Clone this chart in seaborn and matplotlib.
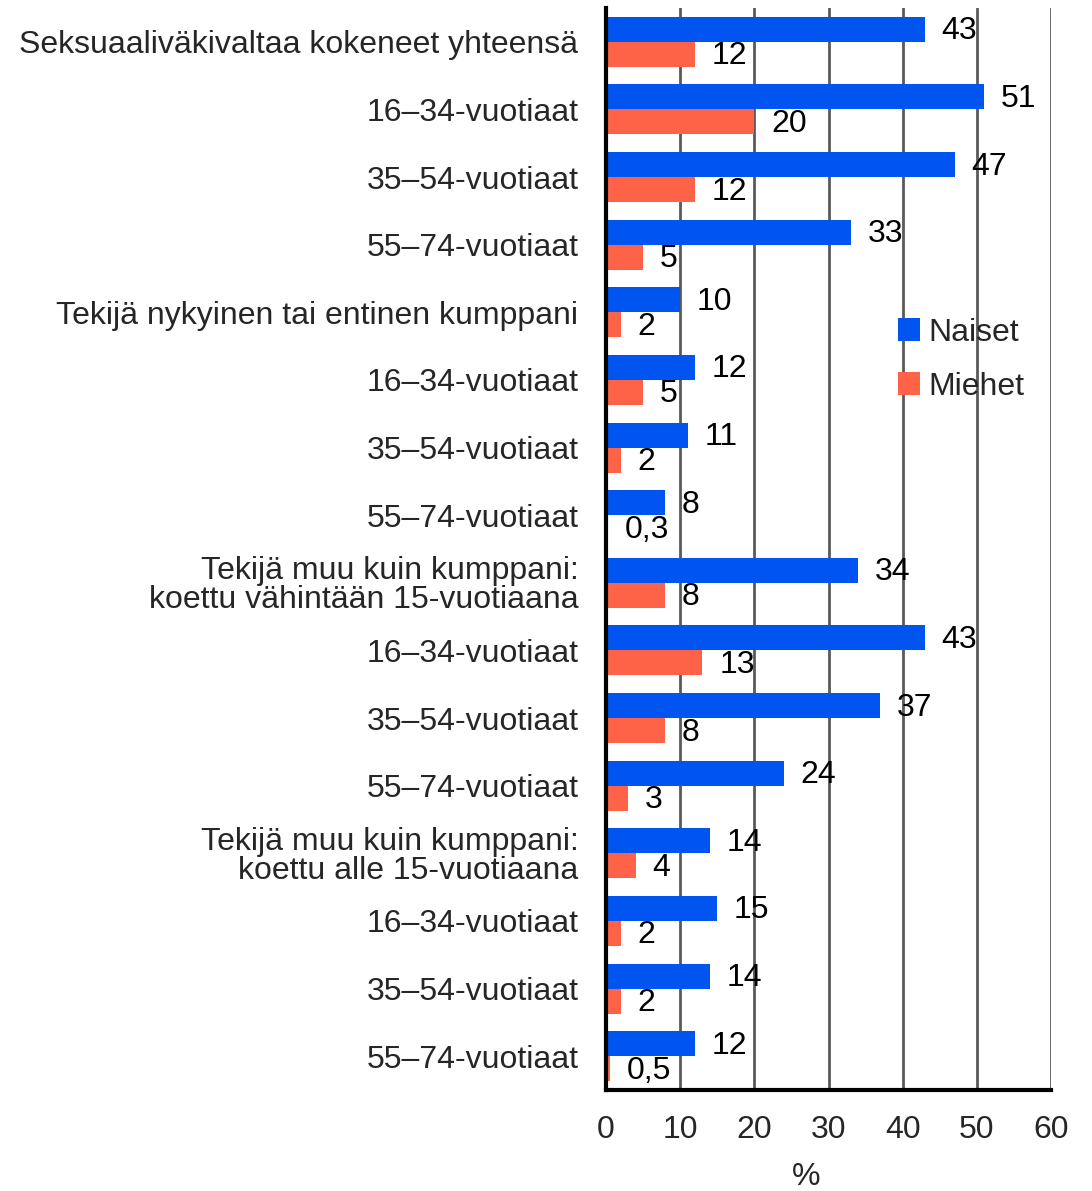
import numpy as np
import pandas as pd
import matplotlib
matplotlib.use("Agg")
import matplotlib.pyplot as plt
import seaborn as sns

# categories top to bottom
categories = [
    "Seksuaaliväkivaltaa kokeneet yhteensä",
    "16–34-vuotiaat",
    "35–54-vuotiaat",
    "55–74-vuotiaat",
    "Tekijä nykyinen tai entinen kumppani",
    "16–34-vuotiaat",
    "35–54-vuotiaat",
    "55–74-vuotiaat",
    "Tekijä muu kuin kumppani:\nkoettu vähintään 15-vuotiaana",
    "16–34-vuotiaat",
    "35–54-vuotiaat",
    "55–74-vuotiaat",
    "Tekijä muu kuin kumppani:\nkoettu alle 15-vuotiaana",
    "16–34-vuotiaat",
    "35–54-vuotiaat",
    "55–74-vuotiaat",
]
naiset = [43, 51, 47, 33, 10, 12, 11, 8, 34, 43, 37, 24, 14, 15, 14, 12]
miehet = [12, 20, 12, 5, 2, 5, 2, 0.3, 8, 13, 8, 3, 4, 2, 2, 0.5]
series = ["Naiset", "Miehet"]
colors = {"Naiset": "#0055F0", "Miehet": "#FF6347"}
xticks = [0, 10, 20, 30, 40, 50, 60]

# category names repeat, so use the row index as the key
rows = []
for i, (n, m) in enumerate(zip(naiset, miehet)):
    rows.append({"kat": str(i), "sarja": "Naiset", "arvo": n})
    rows.append({"kat": str(i), "sarja": "Miehet", "arvo": m})
df = pd.DataFrame(rows)
order = [str(i) for i in range(len(categories))]

sns.set_style("white")
plt.rcParams['font.family'] = ['Liberation Sans', 'DejaVu Sans']
FS = 23

fig = plt.figure(figsize=(10.92, 11.91), dpi=100)
ax = fig.add_axes([0.555, 0.0848, 0.4075, 0.9085])

sns.barplot(data=df, y="kat", x="arvo", hue="sarja", order=order,
            hue_order=series, palette=colors, orient="h", width=0.74,
            saturation=1, ax=ax, zorder=3, errorbar=None, linewidth=0)

def fmt(v):
    return str(v).replace(".", ",") if v != int(v) else str(int(v))

for cont in ax.containers:
    for bar in cont:
        w = bar.get_width()
        ax.annotate(fmt(w), (w, bar.get_y() + bar.get_height() / 2 + 0.03),
                    xytext=(12, 0), textcoords="offset points",
                    ha="left", va="center", fontsize=FS, color="black", zorder=4)

ax.set_xlim(0, 60)
ax.set_ylim(15.5, -0.5)
ax.set_xticks(xticks)
ax.set_xticklabels([str(t) for t in xticks], fontsize=FS)
ax.set_yticks(range(len(categories)))
ax.set_yticklabels(categories, fontsize=FS, linespacing=0.95)
ax.tick_params(axis="x", length=0, pad=18)
ax.tick_params(axis="y", length=0, pad=20)
ax.set_ylabel("")
ax.set_xlabel("")
# axis unit below the tick labels
ax.text((806 - 606) / 445, -0.080, "%", transform=ax.transAxes,
        ha="center", va="center", fontsize=FS)

ax.xaxis.grid(True, color="#5a5a5a", linewidth=2.0, zorder=0)
ax.yaxis.grid(False)
ax.set_axisbelow(True)
for s in ["top", "right"]:
    ax.spines[s].set_visible(False)
ax.spines["left"].set_color("black")
ax.spines["left"].set_linewidth(3)
ax.spines["bottom"].set_color("black")
ax.spines["bottom"].set_linewidth(3)
ax.spines["left"].set_zorder(5)

ax.legend(loc="upper left", bbox_to_anchor=(869 / 1092, 1 - 289 / 1191),
          bbox_transform=fig.transFigure, frameon=False, fontsize=FS,
          handlelength=0.7, handleheight=0.7, handletextpad=0.25,
          labelspacing=0.75, title=None)

fig.savefig("out.png", dpi=100, facecolor="white")
